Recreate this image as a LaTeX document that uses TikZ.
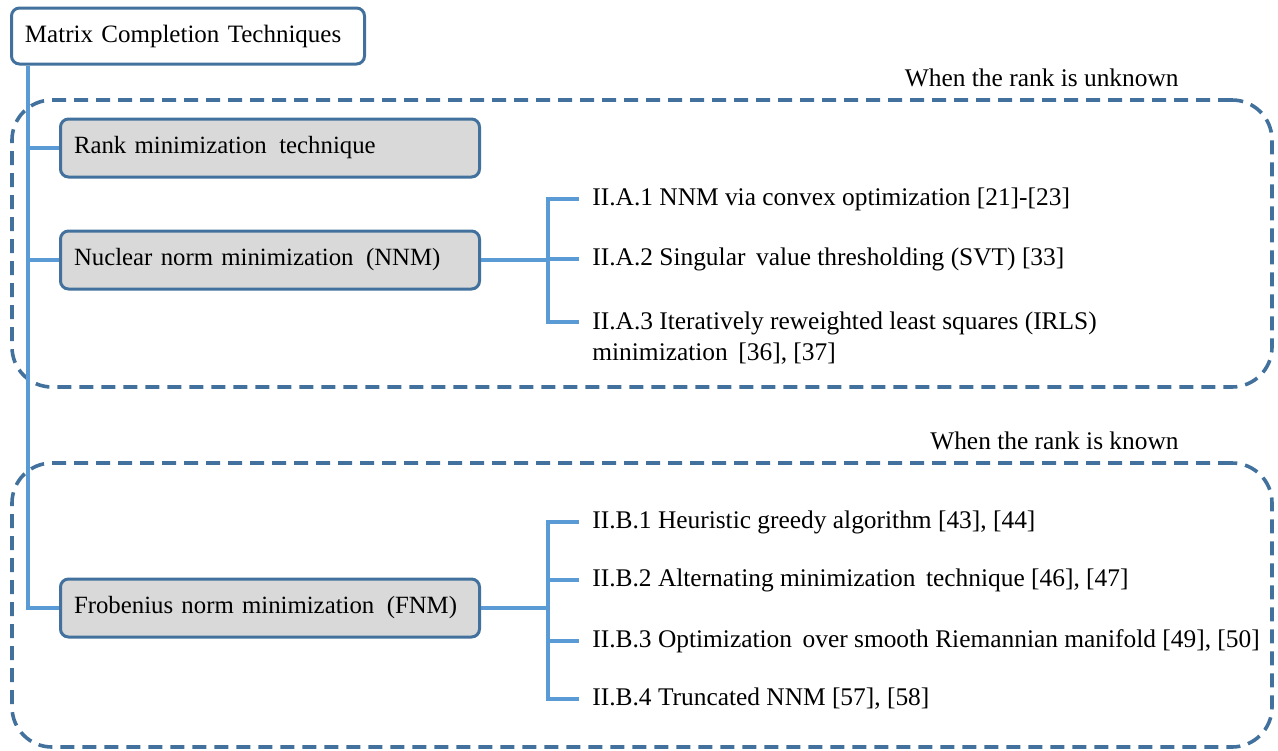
\documentclass[tikz,border=0pt]{standalone}
\usepackage{fontspec}
\setmainfont{Liberation Serif}
\usepackage{tikz}
\usetikzlibrary{calc}

\definecolor{boxblue}{HTML}{41719C}
\definecolor{linkblue}{HTML}{5B9BD5}
\definecolor{boxgrey}{HTML}{D9D9D9}

\begin{document}
\begin{tikzpicture}[
  x=0.5pt,y=-0.5pt,
  font=\fontsize{12.7}{15.5}\selectfont,
  rootbox/.style={draw=boxblue, line width=1.5pt, rounded corners=4pt, font=\fontsize{12.5}{15}\selectfont, text width=163pt, align=left, inner xsep=6.75pt, minimum height=28pt, anchor=west},
  method/.style={draw=boxblue, fill=boxgrey, line width=1.5pt, rounded corners=4pt, font=\fontsize{12.4}{15}\selectfont, text width=196pt, align=left, inner xsep=6.75pt, minimum height=29pt, anchor=west},
  item/.style={anchor=west, inner xsep=6.5pt, inner ysep=0pt},
  group/.style={draw=boxblue, line width=1.8pt, dash pattern=on 7pt off 4pt, rounded corners=20pt, minimum width=630pt, inner sep=0pt},
  note/.style={anchor=base east, inner sep=0pt},
  link/.style={draw=linkblue, line width=1.6pt}
]
\useasboundingbox (0,0) rectangle (1278,750);
% dashed groups
\node[group, minimum height=143.5pt] (unknownbox) at (642,243.5) {};
\node[group, minimum height=142pt] (knownbox) at (642,605) {};
\node[note] (unknownlbl) at (1179,86) {When the rank is unknown};
\node[note] (knownlbl) at (1179,449) {When the rank is known};
% boxes
\node[rootbox] (root) at (10,36) {Matrix Completion Techniques};
\node[method] (rank) at (59,148) {Rank minimization\, technique};
\node[method] (nnm) at (59,260) {Nuclear norm minimization\, (NNM)};
\node[method] (fnm) at (59,608) {Frobenius norm minimization\, (FNM)};
% unknown rank methods
\node[item] (a1) at (579,199) {II.A.1 NNM via convex optimization [21]-[23]};
\node[item] (a2) at (579,259) {II.A.2 Singular\, value thresholding (SVT) [33]};
\node[item, anchor=north west, align=left] (a3) at (579,311) {II.A.3 Iteratively reweighted least squares (IRLS)\\minimization\, [36], [37]};
% known rank methods
\node[item] (b1) at (579,522) {II.B.1 Heuristic greedy algorithm [43], [44]};
\node[item] (b2) at (579,580) {II.B.2 Alternating minimization\, technique [46], [47]};
\node[item] (b3) at (579,641) {II.B.3 Optimization\, over smooth Riemannian manifold [49], [50]};
\node[item] (b4) at (579,699) {II.B.4 Truncated NNM [57], [58]};
% trunk
\coordinate (trunk) at ([xshift=9pt]root.south west);
\draw[link] (trunk) |- (fnm.west);
\draw[link] (trunk |- rank.west) -- (rank.west);
\draw[link] (trunk |- nnm.west) -- (nnm.west);
% brackets
\draw[link] (nnm.east) -- ++(33.5pt,0) coordinate (nnmfork);
\coordinate (a3tick) at ([yshift=-5.5pt]a3.north west);
\draw[link] (a1.west) -| (a3tick -| nnmfork) -- (a3tick);
\draw[link] (a2.west -| nnmfork) -- (a2.west);
\draw[link] (fnm.east) -- ++(33.5pt,0) coordinate (fnmfork);
\draw[link] (b1.west) -| (fnmfork) |- (b4.west);
\draw[link] (b2.west -| fnmfork) -- (b2.west);
\draw[link] (b3.west -| fnmfork) -- (b3.west);
\end{tikzpicture}
\end{document}
